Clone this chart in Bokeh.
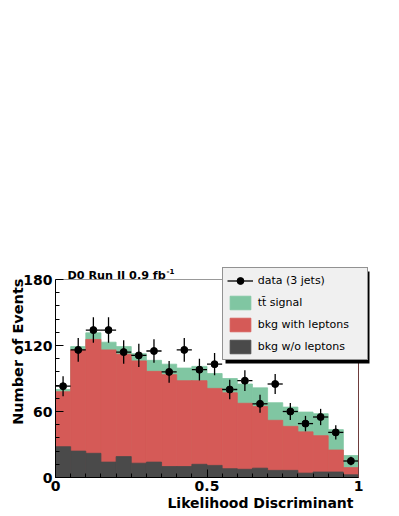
import math
from bokeh.plotting import figure
from bokeh.models import (Range1d, FixedTicker, LinearAxis, Legend, LegendItem,
                          Label, BoxAnnotation, ColumnDataSource)
from bokeh.embed import file_html
from bokeh.resources import INLINE

# ---------------- data ----------------
bin_low = [0.00, 0.05, 0.10, 0.15, 0.20, 0.25, 0.30, 0.35, 0.40, 0.45,
           0.50, 0.55, 0.60, 0.65, 0.70, 0.75, 0.80, 0.85, 0.90, 0.95]
bin_width = 0.05

bkg_wo_leptons = [28, 24, 22, 14, 19, 13, 14, 10, 10, 12,
                  11, 8, 7.5, 8.5, 6.5, 6.5, 4, 5, 5, 2.5]
bkg_with_leptons = [50, 92, 103.5, 102, 93, 93, 82.5, 83.5, 78, 76,
                    70, 69, 60, 56, 45.5, 40, 37.5, 33, 20, 6.5]
ttbar_signal = [2, 3, 6, 7, 7, 6.5, 10, 9.5, 11.5, 13,
                13.5, 13, 17.5, 17, 16, 17.5, 18, 20, 18.5, 11]
data_counts = [83, 116, 134, 134, 114, 111, 115, 96, 116, 98,
               103, 80, 88, 67, 85, 60, 49, 55, 41, 15]
data_errors = [9.1, 10.8, 11.6, 11.6, 10.7, 10.5, 10.7, 9.8, 10.8, 9.9,
               10.1, 8.9, 9.4, 8.2, 9.2, 7.7, 7.0, 7.4, 6.4, 3.9]

x_ticks = [0, 0.5, 1]
x_minor_ticks = [0.05, 0.10, 0.15, 0.20, 0.25, 0.30, 0.35, 0.40, 0.45,
                 0.55, 0.60, 0.65, 0.70, 0.75, 0.80, 0.85, 0.90, 0.95]
y_ticks = [0, 60, 120, 180]
y_minor_ticks = [12, 24, 36, 48, 72, 84, 96, 108, 132, 144, 156, 168]

legend_labels = ["data (3 jets)", "tt\u0304 signal", "bkg with leptons", "bkg w/o leptons"]
title_text = "D0 Run II 0.9 fb"
title_sup = "-1"
x_label = "Likelihood Discriminant"
y_label = "Number of Events"

# ---------------- styles ----------------
GREEN = "#80c6a2"
RED = "#d55a57"
DARK = "#4a4a4a"
FONT = "DejaVu Sans"

W, H = 396, 512
# plot region: x 0..1 -> px 55..358 ; y 0..180 -> px 477..279
PX_PER_X = 303.0
PX_PER_Y = 1.1
X0_PX, Y0_PX = 55.0, 477.0

# ---------------- derived ----------------
bin_high = [b + bin_width for b in bin_low]
centers = [b + bin_width / 2 for b in bin_low]
top_dark = list(bkg_wo_leptons)
top_red = [a + b for a, b in zip(top_dark, bkg_with_leptons)]
top_green = [a + b for a, b in zip(top_red, ttbar_signal)]

src = ColumnDataSource(dict(
    left=bin_low, right=bin_high, x=centers,
    dark=top_dark, red=top_red, green=top_green,
    y=data_counts,
    ylo=[d - e for d, e in zip(data_counts, data_errors)],
    yhi=[d + e for d, e in zip(data_counts, data_errors)],
    hl0=bin_low, hl1=[c - 0.012 for c in centers],
    hr0=[c + 0.012 for c in centers], hr1=bin_high,
))

x_range = Range1d(-X0_PX / PX_PER_X, (W - X0_PX) / PX_PER_X)
y_range = Range1d(-(H - Y0_PX) / PX_PER_Y, Y0_PX / PX_PER_Y)

p = figure(width=W, height=H, output_backend="svg", toolbar_location=None,
           x_range=x_range, y_range=y_range, x_axis_type=None, y_axis_type=None)
p.min_border = 0
p.outline_line_color = None
p.background_fill_color = "white"
p.border_fill_color = "white"

r_green = p.quad(left="left", right="right", bottom=0, top="green", source=src,
                 fill_color=GREEN, line_color=GREEN, line_width=0.8)
r_red = p.quad(left="left", right="right", bottom=0, top="red", source=src,
               fill_color=RED, line_color=RED, line_width=0.8)
r_dark = p.quad(left="left", right="right", bottom=0, top="dark", source=src,
                fill_color=DARK, line_color=DARK, line_width=0.8)

r_vbar = p.segment(x0="x", y0="ylo", x1="x", y1="yhi", source=src,
                   line_color="black", line_width=1.3)
r_hl = p.segment(x0="hl0", y0="y", x1="hl1", y1="y", source=src,
                 line_color="black", line_width=1.3)
r_hr = p.segment(x0="hr0", y0="y", x1="hr1", y1="y", source=src,
                 line_color="black", line_width=1.3)
r_pts = p.scatter(x="x", y="y", source=src, size=7, marker="circle",
                  fill_color="black", line_color="black")

# ---------------- axes ----------------
def style_axis(ax):
    ax.axis_line_color = "black"
    ax.axis_line_width = 1
    ax.major_tick_in = 8
    ax.major_tick_out = 0
    ax.minor_tick_in = 4
    ax.minor_tick_out = 0
    ax.major_tick_line_color = "black"
    ax.minor_tick_line_color = "black"
    ax.major_label_text_font = FONT
    ax.major_label_text_font_style = "bold"
    ax.major_label_text_font_size = "14px"
    ax.major_label_text_color = "black"
    ax.major_label_standoff = 3

xa = LinearAxis(ticker=FixedTicker(ticks=x_ticks, minor_ticks=x_minor_ticks),
                fixed_location=0, bounds=(0, 1))
style_axis(xa)
p.add_layout(xa, "below")
ya = LinearAxis(ticker=FixedTicker(ticks=y_ticks, minor_ticks=y_minor_ticks),
                fixed_location=0, bounds=(0, 180))
style_axis(ya)
p.add_layout(ya, "left")

top_ax = LinearAxis(ticker=FixedTicker(ticks=[]), fixed_location=180, bounds=(0, 1),
                    axis_line_color="#999999",
                    major_tick_in=0, major_tick_out=0, minor_tick_in=0, minor_tick_out=0,
                    major_label_text_font_size="0px")
p.add_layout(top_ax, "above")
right_ax = LinearAxis(ticker=FixedTicker(ticks=[]), fixed_location=1, bounds=(0, 180),
                      axis_line_color="#6e3c3c",
                      major_tick_in=0, major_tick_out=0, minor_tick_in=0, minor_tick_out=0,
                      major_label_text_font_size="0px")
p.add_layout(right_ax, "right")

# ---------------- texts ----------------
def dx(px):
    return (px - X0_PX) / PX_PER_X

def dy(py):
    return (Y0_PX - py) / PX_PER_Y

p.add_layout(Label(x=dx(353), y=dy(502), text=x_label, text_font=FONT,
                   text_font_style="bold", text_font_size="14px", text_color="black",
                   text_align="right", text_baseline="alphabetic"))
p.add_layout(Label(x=dx(17), y=dy(278), text=y_label, text_font=FONT,
                   text_font_style="bold", text_font_size="14.5px", angle=math.pi / 2,
                   text_color="black", text_align="right", text_baseline="alphabetic"))
p.add_layout(Label(x=dx(67), y=dy(275), text=title_text, text_font=FONT,
                   text_font_style="bold", text_font_size="11.2px", text_color="black",
                   text_align="left", text_baseline="alphabetic"))
p.add_layout(Label(x=dx(166), y=dy(270), text=title_sup, text_font=FONT,
                   text_font_style="bold", text_font_size="7px", text_color="black",
                   text_align="left", text_baseline="alphabetic"))

# ---------------- legend ----------------
shadow = BoxAnnotation(left=dx(225), right=dx(369), top=dy(271), bottom=dy(363),
                       fill_color="black", fill_alpha=1, line_color=None)
p.add_layout(shadow)

legend = Legend(items=[
    LegendItem(label=legend_labels[0], renderers=[r_hl, r_pts]),
    LegendItem(label=legend_labels[1], renderers=[r_green]),
    LegendItem(label=legend_labels[2], renderers=[r_red]),
    LegendItem(label=legend_labels[3], renderers=[r_dark]),
], location=(221.7, H - 359.7))
legend.border_line_color = "#333333"
legend.border_line_width = 1
legend.background_fill_color = "#f0f0f0"
legend.background_fill_alpha = 1
legend.padding = 4
legend.spacing = 5
legend.margin = 0
legend.glyph_width = 26
legend.glyph_height = 17
legend.label_height = 17
legend.label_width = 105
legend.label_standoff = 5
legend.label_text_font = FONT
legend.label_text_font_size = "11px"
legend.label_text_color = "black"
p.add_layout(legend, "center")

open("out.html", "w").write(file_html(p, INLINE))
